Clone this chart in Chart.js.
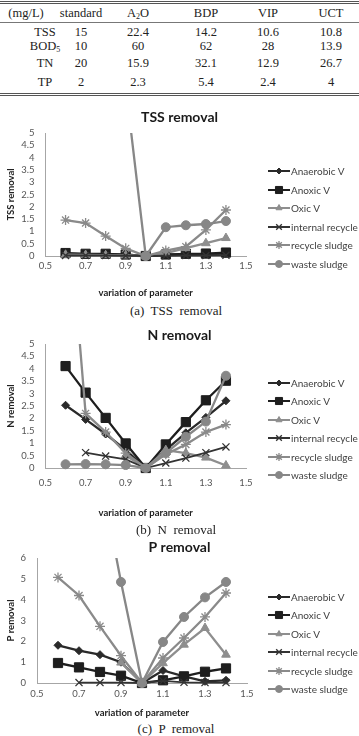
<!DOCTYPE html>
<html>
<head>
<meta charset="utf-8">
<script src="https://cdn.jsdelivr.net/npm/chart.js@4.4.0/dist/chart.umd.min.js"></script>
<style>
html, body { margin: 0; padding: 0; background: #fff; }
body { width: 359px; height: 736px; position: relative; overflow: hidden; }
.cell { position: absolute; transform: translate(-50%, -50%); font-family: 'Liberation Serif', serif; font-size: 12.5px; color: #222; white-space: nowrap; }
.cell sub { font-size: 8px; vertical-align: -2px; }
.rule { position: absolute; left: 0; width: 359px; }
.cap { position: absolute; transform: translate(-50%, -50%); font-family: 'Liberation Serif', serif; font-size: 13px; color: #222; white-space: pre; }
.chart { position: absolute; left: 0; }
.leg { position: absolute; left: 268px; height: 12px; line-height: 12px; font-family: Lato, sans-serif; font-size: 10px; color: #404040; white-space: nowrap; }
.leg canvas { vertical-align: top; margin-right: 1px; }
</style>
</head>
<body>
<div class="rule" style="top:1px;border-top:3px double #555;"></div>
<div class="rule" style="top:22px;border-top:1px solid #777;"></div>
<div class="rule" style="top:93px;border-top:3px double #555;"></div>

<canvas id="tss" class="chart" width="359" height="195" style="top:105px"></canvas>
<canvas id="nrem" class="chart" width="359" height="200" style="top:320px"></canvas>
<canvas id="prem" class="chart" width="359" height="183" style="top:537px"></canvas>

<div class="cap" style="left:176px;top:311px">(a)  TSS  removal</div>
<div class="cap" style="left:176px;top:530px">(b)  N  removal</div>
<div class="cap" style="left:176px;top:729px">(c)  P  removal</div>

<script>
// table
const tableHead = ['(mg/L)', 'standard', 'A<sub>2</sub>O', 'BDP', 'VIP', 'UCT'];
const tableRows = [
    ['TSS', '15', '22.4', '14.2', '10.6', '10.8'],
    ['BOD<sub>5</sub>', '10', '60', '62', '28', '13.9'],
    ['TN', '20', '15.9', '32.1', '12.9', '26.7'],
    ['TP', '2', '2.3', '5.4', '2.4', '4']
];

// chart data
const params = [0.6, 0.7, 0.8, 0.9, 1.0, 1.1, 1.2, 1.3, 1.4];
const xTicks = [0.5, 0.7, 0.9, 1.1, 1.3, 1.5];
const seriesNames = ['Anaerobic V', 'Anoxic V', 'Oxic V', 'internal recycle', 'recycle sludge', 'waste sludge'];

const tssYTicks = [0, 0.5, 1, 1.5, 2, 2.5, 3, 3.5, 4, 4.5, 5];
const tssAnaerobic = [0.1, 0.08, 0.07, 0.05, 0, 0.05, 0.07, 0.08, 0.1];
const tssAnoxic = [0.12, 0.09, 0.09, 0.06, 0, 0.06, 0.09, 0.1, 0.14];
const tssOxic = [0.05, 0.04, 0.03, 0.02, 0, 0.12, 0.32, 0.52, 0.73];
const tssInternal = [0.02, 0.02, 0.02, 0.01, 0, 0.01, 0.02, 0.02, 0.03];
const tssRecycle = [1.46, 1.34, 0.81, 0.31, 0, 0.22, 0.38, 1.06, 1.87];
const tssWaste = [null, null, null, 6.9, 0, 1.17, 1.25, 1.3, 1.42];

const nYTicks = [0, 0.5, 1, 1.5, 2, 2.5, 3, 3.5, 4, 4.5, 5];
const nAnaerobic = [2.53, 1.96, 1.37, 0.73, 0, 0.73, 1.42, 2.04, 2.71];
const nAnoxic = [4.11, 3.04, 2.02, 0.99, 0, 0.95, 1.85, 2.73, 3.52];
const nOxic = [null, null, null, 0.5, 0, 0.72, 0.6, 0.42, 0.1];
const nInternal = [null, 0.62, 0.48, 0.35, 0, 0.2, 0.4, 0.62, 0.85];
const nRecycle = [12, 2.2, 1.45, 0.6, 0, 0.55, 0.95, 1.45, 1.75];
const nWaste = [0.15, 0.16, 0.15, 0.12, 0, 0.6, 1.26, 1.87, 3.72];

const pYTicks = [0, 1, 2, 3, 4, 5, 6];
const pAnaerobic = [1.81, 1.55, 1.36, 1.0, 0, 0.6, 0.32, 0.08, 0.13];
const pAnoxic = [0.96, 0.75, 0.53, 0.35, 0, 0.13, 0.32, 0.54, 0.7];
const pOxic = [null, null, null, 0.98, 0, 0.95, 1.84, 2.64, 1.36];
const pInternal = [null, 0.02, 0.02, 0.02, 0, 0.1, 0.03, 0.02, 0.02];
const pRecycle = [5.07, 4.2, 2.72, 1.31, 0, 1.2, 2.16, 3.17, 4.32];
const pWaste = [null, null, 10.1, 4.85, 0, 1.97, 3.17, 4.11, 4.85];

// look of each series (excel grey scale)
const seriesStyle = [
    {color: '#2a2a2a', point: 'rectRot', radius: 4, width: 2.3, pbw: 1, legR: 3},
    {color: '#1e1e1e', point: 'rect', radius: 6.5, width: 2.3, pbw: 1, legR: 5},
    {color: '#8e8e8e', point: 'triangle', radius: 5, width: 2.3, pbw: 1, legR: 3.5},
    {color: '#333333', point: 'crossRot', radius: 5, width: 1.8, pbw: 1.3, legR: 4},
    {color: '#8a8a8a', point: 'star', radius: 5, width: 2.3, pbw: 1.3, legR: 4},
    {color: '#878787', point: 'circle', radius: 4.5, width: 2.3, pbw: 1, legR: 3.5}
];

// table cells
const colX = [26, 81, 138, 206, 268, 331];
const rowY = [32.3, 46, 62.7, 81.5];
function cell(html, x, y) {
    const d = document.createElement('div');
    d.className = 'cell';
    d.innerHTML = html;
    d.style.left = x + 'px';
    d.style.top = y + 'px';
    document.body.appendChild(d);
}
tableHead.forEach((h, i) => cell(h, colX[i], 13.3));
tableRows.forEach((r, j) => r.forEach((v, i) => cell(v, i == 0 ? 45 : colX[i], rowY[j])));

const lbl = {family: 'Lato', size: 9.5};
const ttl = {family: 'Lato', size: 9.5, weight: 'bold'};

function makeChart(id, s) {
    const datasets = seriesNames.map((name, i) => {
        const st = seriesStyle[i];
        return {
            label: name,
            data: params.map((x, k) => ({x: x, y: s.series[i][k]})),
            borderColor: st.color,
            backgroundColor: st.color,
            borderWidth: st.width,
            pointStyle: st.point,
            pointRadius: st.radius,
            pointBorderColor: st.color,
            pointBackgroundColor: st.color,
            pointBorderWidth: st.pbw,
            tension: 0,
            order: seriesNames.length - i,  // last series on top like excel
            clip: {left: 20, right: 20, top: 0, bottom: 20}
        };
    });
    return new Chart(document.getElementById(id), {
        type: 'line',
        data: {datasets},
        options: {
            responsive: false,
            animation: false,
            events: [],
            layout: {padding: 0},
            plugins: {
                legend: {display: false},
                tooltip: {enabled: false},
                title: {
                    display: true, text: s.title, color: '#1a1a1a',
                    font: {family: 'Lato', size: 14, weight: 'bold'},
                    padding: s.titlePad
                }
            },
            scales: {
                x: {
                    type: 'linear', min: 0.5, max: 1.5,
                    afterBuildTicks: sc => { sc.ticks = xTicks.map(v => ({value: v})); },
                    afterFit: sc => { sc.height = s.xH; },
                    grid: {display: false, drawTicks: false},
                    border: {display: true, color: '#a6a6a6', width: 1},
                    ticks: {padding: s.xPad, color: '#555', font: lbl, maxRotation: 0, autoSkip: false, callback: v => String(v)},
                    title: {display: true, text: 'variation of parameter', color: '#222', font: ttl, padding: {top: 0, bottom: 1.3}}
                },
                y: {
                    type: 'linear', min: 0, max: s.yTicks[s.yTicks.length - 1],
                    afterBuildTicks: sc => { sc.ticks = s.yTicks.map(v => ({value: v})); },
                    afterFit: sc => { sc.width = s.leftW; },
                    grid: {display: false, drawTicks: false},
                    border: {display: true, color: '#a6a6a6', width: 1},
                    ticks: {padding: 11, color: '#555', font: lbl, autoSkip: false, callback: v => String(v)},
                    title: {display: true, text: s.yTitle, color: '#222', font: ttl, padding: {top: 5, bottom: 0}}
                },
                pad: {
                    type: 'linear', position: 'right', min: 0, max: 1,
                    grid: {display: false, drawTicks: false},
                    border: {display: false},
                    ticks: {display: false},
                    afterFit: sc => { sc.width = s.rightW; }
                }
            }
        }
    });
}

makeChart('tss', {
    title: 'TSS removal', yTitle: 'TSS removal', yTicks: tssYTicks,
    series: [tssAnaerobic, tssAnoxic, tssOxic, tssInternal, tssRecycle, tssWaste],
    titlePad: {top: 3.6, bottom: 7.6}, xH: 44, xPad: 4.3, leftW: 45.5, rightW: 113
});
makeChart('nrem', {
    title: 'N removal', yTitle: 'N removal', yTicks: nYTicks,
    series: [nAnaerobic, nAnoxic, nOxic, nInternal, nRecycle, nWaste],
    titlePad: {top: 6.6, bottom: 0.6}, xH: 52, xPad: 9.3, leftW: 45.5, rightW: 113
});
makeChart('prem', {
    title: 'P removal', yTitle: 'P removal', yTicks: pYTicks,
    series: [pAnaerobic, pAnoxic, pOxic, pInternal, pRecycle, pWaste],
    titlePad: {top: 1.6, bottom: 2.6}, xH: 37, xPad: 5.3, leftW: 37, rightW: 112
});

// legends (html, one per chart)
const legendStart = [171, 382.7, 596.7];
function symbol(st) {
    const c = document.createElement('canvas');
    c.width = 22; c.height = 12;
    const ctx = c.getContext('2d');
    ctx.strokeStyle = st.color;
    ctx.fillStyle = st.color;
    ctx.lineWidth = 2;
    ctx.beginPath(); ctx.moveTo(0, 6); ctx.lineTo(22, 6); ctx.stroke();
    ctx.lineWidth = st.pbw;
    if (Chart.helpers && Chart.helpers.drawPoint) {
        Chart.helpers.drawPoint(ctx, {pointStyle: st.point, radius: st.legR, rotation: 0, borderWidth: st.pbw}, 11, 6);
    }
    return c;
}
legendStart.forEach(y0 => {
    seriesNames.forEach((name, i) => {
        const d = document.createElement('div');
        d.className = 'leg';
        d.style.top = (y0 + i * 18.5 - 6) + 'px';
        d.appendChild(symbol(seriesStyle[i]));
        d.appendChild(document.createTextNode(name));
        document.body.appendChild(d);
    });
});
</script>
</body>
</html>
